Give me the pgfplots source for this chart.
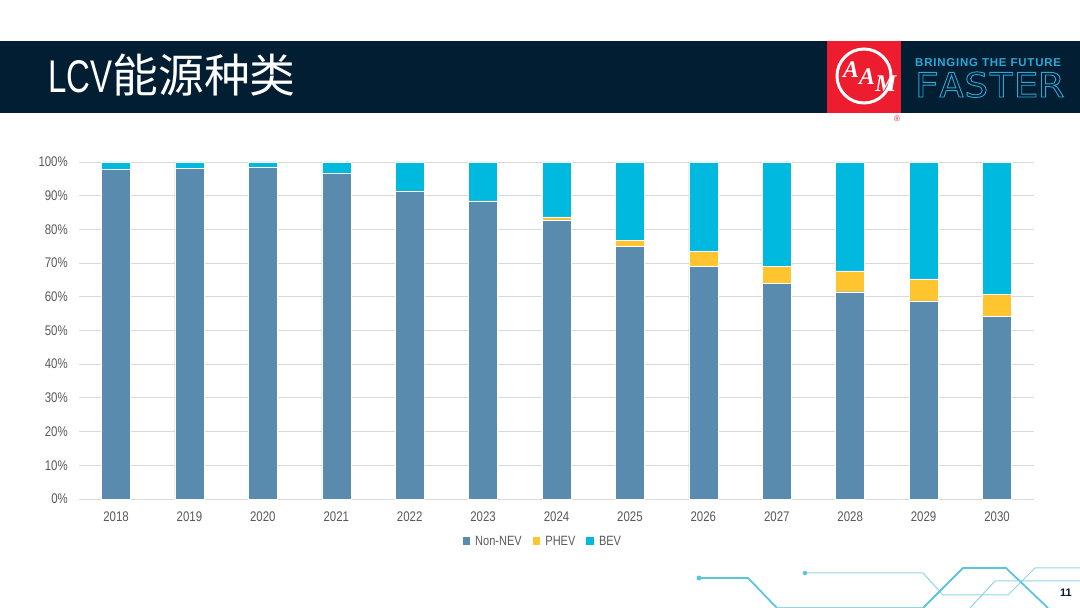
\documentclass[border=0pt]{standalone}
\usepackage{pgfplots}
\pgfplotsset{compat=1.18}
\usepackage{fontspec}
\setmainfont{Liberation Sans}[FakeStretch=0.82]
\newfontfamily\cjk{Noto Sans CJK SC}
\newfontfamily\titlelat{Liberation Sans}[FakeStretch=0.72]
\newfontfamily\plainsans{Liberation Sans}
\newfontfamily\logof{Liberation Sans}[LetterSpace=7]
\newfontfamily\serifbi{Liberation Serif}
\newfontfamily\monof{DejaVu Sans Mono}[FakeStretch=1.22]
\definecolor{navy}{HTML}{021E33}
\definecolor{nonnev}{HTML}{588BAE}
\definecolor{phev}{HTML}{FFC52F}
\definecolor{bev}{HTML}{00B9DE}
\definecolor{txtgray}{HTML}{595959}
\definecolor{gridgray}{HTML}{D9D9D9}
\definecolor{aamred}{HTML}{ED1C2E}
\definecolor{logocyan}{HTML}{29A9D9}
\definecolor{deco}{HTML}{5BC5DE}
\definecolor{decol}{HTML}{8FD6E8}

\pgfplotstableread{
x nonnev phev bev
0 97.8 0.0 2.2
1 98.1 0.0 1.9
2 98.5 0.0 1.5
3 96.8 0.0 3.2
4 91.4 0.0 8.6
5 88.4 0.1 11.5
6 82.8 0.9 16.3
7 74.9 1.9 23.2
8 69.0 4.4 26.6
9 64.0 5.1 30.9
10 61.5 6.2 32.3
11 58.8 6.5 34.7
12 54.1 6.7 39.2
}\lcvdata

\begin{document}
\begin{tikzpicture}
\useasboundingbox (0bp,0bp) rectangle (1080bp,608bp);
\fill[white] (0bp,0bp) rectangle (1080bp,608bp);
% header band
\fill[navy] (0bp,494.5bp) rectangle (1080bp,567.3bp);
\node[anchor=base west, inner sep=0pt, text=white] at (48bp,515bp)
  {\fontsize{46}{50}\selectfont\titlelat LCV\cjk 能源种类};
% logo
\fill[aamred] (827bp,494.5bp) rectangle (901bp,567.3bp);
\draw[white, line width=3bp] (864bp,532bp) circle (27bp);
\node[text=white, inner sep=0pt, anchor=base west] at (843bp,530bp)
  {\fontsize{24}{26}\selectfont\serifbi\bfseries\itshape A\raisebox{-7bp}{A}\raisebox{-14bp}{M}};
\node[text=aamred, inner sep=0pt] at (897bp,489bp) {\fontsize{8}{9}\selectfont\plainsans ®};
\node[anchor=base west, text=logocyan, inner sep=0pt] at (915bp,541bp)
  {\fontsize{11.5}{13}\selectfont\logof\bfseries BRINGING THE FUTURE};
\node[anchor=base west, text=logocyan, inner sep=0pt] at (914bp,511bp)
  {\fontsize{34}{38}\selectfont\monof\special{pdf:literal direct 1 Tr 0.9 w 0.161 0.663 0.851 RG}FASTER\special{pdf:literal direct 0 Tr}};
% decorative circuit lines
\draw[deco, line width=1.8bp] (699bp,30bp) -- (748bp,30bp) -- (777bp,0bp);
\fill[deco] (699bp,30bp) circle (2.5bp);
\draw[decol, line width=1bp] (805bp,35bp) -- (923bp,35bp) -- (943bp,13bp) -- (1008bp,13bp) -- (1035bp,40bp) -- (1080bp,40bp);
\fill[deco] (805bp,35bp) circle (2.2bp);
\draw[deco, line width=1.8bp] (923bp,0bp) -- (963bp,40bp) -- (1006bp,40bp) -- (1048bp,0bp);
\draw[decol, line width=1bp] (970bp,0bp) -- (995bp,27bp) -- (1080bp,27bp);
\draw[decol, line width=1bp] (777bp,1bp) -- (923bp,1bp);
\node[text=navy, inner sep=0pt] at (1066bp,15bp) {\fontsize{11}{12}\selectfont\plainsans\bfseries 11};

\begin{axis}[
  at={(79.3bp,109bp)}, anchor=south west,
  scale only axis, width=954.4bp, height=337bp,
  ybar stacked, bar width=29bp,
  xmin=-0.5, xmax=12.5, ymin=0, ymax=100,
  xtick=data,
  xticklabels={2018,2019,2020,2021,2022,2023,2024,2025,2026,2027,2028,2029,2030},
  ytick={0,10,...,100},
  yticklabel={\pgfmathprintnumber{\tick}\%},
  /pgf/number format/assume math mode=true,
  axis line style={draw=none},
  major tick length=0pt,
  ymajorgrids, grid style={gridgray, line width=0.9bp},
  tick label style={text=txtgray, font=\fontsize{14}{16}\selectfont},
  xticklabel style={yshift=-9bp},
  yticklabel style={xshift=-8bp},
  legend style={at={(0.4857,-0.125)}, anchor=center, draw=none, fill=none,
    legend columns=-1, font=\fontsize{13.5}{15}\selectfont, text=txtgray,
    /tikz/every odd column/.append style={column sep=3bp},
    /tikz/every even column/.append style={column sep=9bp}},
  legend image code/.code={\fill[#1,draw=none] (0bp,-3.8bp) rectangle (7.6bp,3.8bp);},
  clip=false,
]
\addplot[fill=nonnev, draw=white, line width=0.4bp] table[x=x, y=nonnev] {\lcvdata};
\addplot[fill=phev, draw=white, line width=0.4bp] table[x=x, y=phev] {\lcvdata};
\addplot[fill=bev, draw=white, line width=0.4bp] table[x=x, y=bev] {\lcvdata};
\legend{Non-NEV, PHEV, BEV}
\end{axis}
\end{tikzpicture}
\end{document}
